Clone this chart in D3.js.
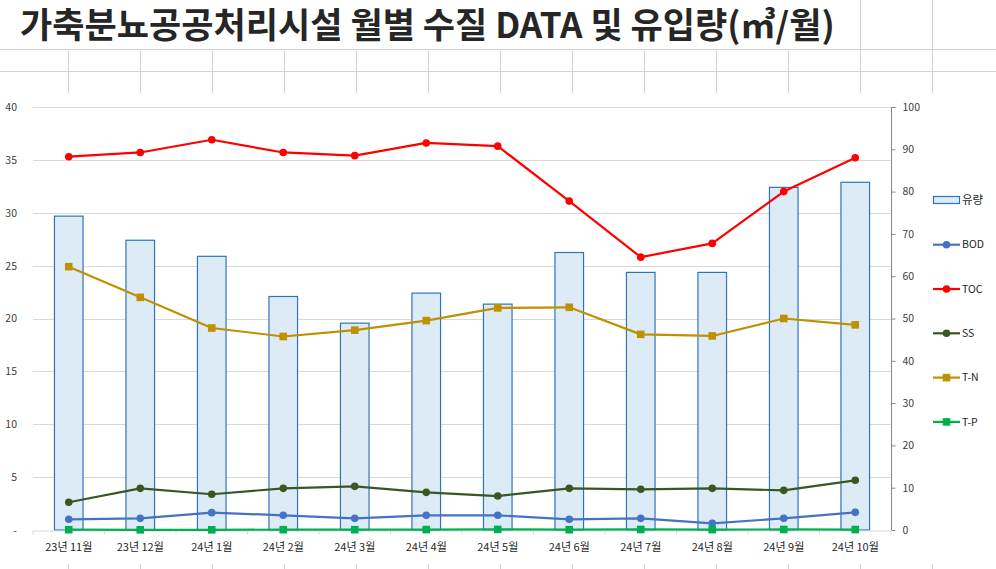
<!DOCTYPE html>
<html>
<head>
  <meta charset="utf-8">
  <script src="https://cdn.jsdelivr.net/npm/d3@7"></script>
  <title>월별 수질 DATA 및 유입량</title>
  <style>
    body { margin: 0; background: #fff; }
    .chart { position: relative; }
    .title {
      position: absolute; left: 20px; top: 0;
      font-family: "Noto Sans CJK KR", sans-serif;
      font-weight: bold; color: #262626;
      line-height: 1.25; white-space: nowrap;
    }
    text { font-family: "Noto Sans CJK KR", "Noto Sans", sans-serif; }
  </style>
</head>
<body>
  <div class="chart"></div>
  <script type="text/javascript">
    // values
    var months = ['23년 11월', '23년 12월', '24년 1월', '24년 2월', '24년 3월', '24년 4월',
                  '24년 5월', '24년 6월', '24년 7월', '24년 8월', '24년 9월', '24년 10월'];
    var flow = [74.2, 68.5, 64.7, 55.2, 48.9, 56.0, 53.4, 65.6, 60.9, 60.9, 81.0, 82.2];
    var bod = [1.01, 1.10, 1.64, 1.39, 1.10, 1.39, 1.39, 1.01, 1.10, 0.63, 1.10, 1.67];
    var toc = [35.3, 35.7, 36.9, 35.7, 35.4, 36.6, 36.3, 31.1, 25.8, 27.1, 32.0, 35.2];
    var ss = [2.62, 3.94, 3.38, 3.94, 4.13, 3.56, 3.21, 3.94, 3.85, 3.94, 3.75, 4.70];
    var tn = [24.9, 22.0, 19.1, 18.3, 18.9, 19.8, 21.0, 21.06, 18.5, 18.35, 20.0, 19.4];
    var tp = [0.03, 0.02, 0.02, 0.03, 0.03, 0.04, 0.06, 0.03, 0.05, 0.04, 0.05, 0.04];
    var leftTicks = [0, 5, 10, 15, 20, 25, 30, 35, 40];
    var rightTicks = [0, 10, 20, 30, 40, 50, 60, 70, 80, 90, 100];

    var lines = [
      {name: 'BOD', values: bod, color: '#4472C4', shape: 'circle'},
      {name: 'TOC', values: toc, color: '#FF0000', shape: 'circle'},
      {name: 'SS', values: ss, color: '#385723', shape: 'circle'},
      {name: 'T-N', values: tn, color: '#BF9000', shape: 'square'},
      {name: 'T-P', values: tp, color: '#00B050', shape: 'square'}
    ];

    var width = 996, height = 569;
    var cellColor = '#d4d4d4';
    var plot = {left: 33, right: 891, top: 107, bottom: 530};

    var svg = d3.select('.chart')
      .append('svg')
      .attr('width', width)
      .attr('height', height);

    // spreadsheet cells behind the chart
    var cols = d3.range(68, width, 72);
    svg.selectAll('.row').data([49, 71]).enter()
      .append('line')
      .attr('x1', 0).attr('x2', width)
      .attr('y1', function(d) { return d + 0.5; })
      .attr('y2', function(d) { return d + 0.5; })
      .attr('stroke', cellColor);
    svg.selectAll('.col').data(cols).enter()
      .append('line')
      .attr('x1', function(d) { return d + 0.5; })
      .attr('x2', function(d) { return d + 0.5; })
      .attr('y1', function(d) { return d >= 860 ? 0 : 49; })
      .attr('y2', 93)
      .attr('stroke', cellColor);
    svg.selectAll('.colb').data(cols).enter()
      .append('line')
      .attr('x1', function(d) { return d + 0.5; })
      .attr('x2', function(d) { return d + 0.5; })
      .attr('y1', 564).attr('y2', height)
      .attr('stroke', cellColor);

    // title sits in the merged cell; fit it to 815px and put its baseline near y=38
    var title = d3.select('.chart').append('div')
      .attr('class', 'title')
      .style('font-size', '100px')
      .text('가축분뇨공공처리시설 월별 수질 DATA 및 유입량(㎥/월)');
    var tw = title.node().getBoundingClientRect().width;
    title.style('font-size', (100 * 815 / tw) + 'px');
    var probe = title.append('span')
      .style('display', 'inline-block').style('width', '0px').style('height', '0px');
    var base = probe.node().getBoundingClientRect().top - title.node().getBoundingClientRect().top;
    probe.remove();
    title.style('top', Math.max(0, 38 - base) + 'px');

    var x = d3.scaleBand()
      .domain(months)
      .range([plot.left, plot.right]);
    var yL = d3.scaleLinear().domain([0, 40]).range([plot.bottom, plot.top]);
    var yR = d3.scaleLinear().domain([0, 100]).range([plot.bottom, plot.top]);

    // gridlines
    svg.selectAll('.grid').data(leftTicks.slice(1)).enter()
      .append('line')
      .attr('x1', plot.left).attr('x2', plot.right)
      .attr('y1', function(d) { return Math.round(yL(d)) + 0.5; })
      .attr('y2', function(d) { return Math.round(yL(d)) + 0.5; })
      .attr('stroke', '#d9d9d9');

    // left axis, no line, zero shown as '-'
    var axL = svg.append('g')
      .attr('transform', 'translate(' + (plot.left - 13) + ',0)')
      .call(d3.axisLeft(yL).tickValues(leftTicks).tickSize(0)
        .tickFormat(function(d) { return d === 0 ? '-' : d; }));
    axL.select('.domain').remove();
    axL.selectAll('text').attr('font-size', 10.5).attr('fill', '#404040')
      .attr('font-family', '"Noto Sans CJK KR", sans-serif');

    // right axis
    var axR = svg.append('g')
      .attr('transform', 'translate(' + (plot.right + 0.5) + ',0)')
      .call(d3.axisRight(yR).tickValues(rightTicks).tickSize(4).tickPadding(7));
    axR.select('.domain').attr('stroke', '#868686').attr('d', 'M0,' + plot.top + 'V' + plot.bottom);
    axR.selectAll('line').attr('stroke', '#868686');
    axR.selectAll('text').attr('font-size', 10.5).attr('fill', '#404040')
      .attr('font-family', '"Noto Sans CJK KR", sans-serif');

    // bars (유량) on the right axis
    var barW = x.bandwidth() * 0.4;
    svg.selectAll('.bar').data(flow).enter()
      .append('rect')
      .attr('x', function(d, i) { return x(months[i]) + (x.bandwidth() - barW) / 2; })
      .attr('y', function(d) { return yR(d); })
      .attr('width', barW)
      .attr('height', function(d) { return yR(0) - yR(d); })
      .attr('fill', '#DDEBF7')
      .attr('stroke', '#2E75B6')
      .attr('stroke-width', 1.2);

    // category axis
    var axX = svg.append('g')
      .attr('transform', 'translate(0,' + (plot.bottom + 0.5) + ')')
      .call(d3.axisBottom(x).tickSize(0).tickPadding(13));
    axX.select('.domain').attr('stroke', '#d9d9d9');
    axX.selectAll('text').attr('font-size', 11).attr('fill', '#262626')
      .attr('font-family', '"Noto Sans CJK KR", sans-serif');
    axX.selectAll('.bnd').data(d3.range(months.length + 1)).enter()
      .append('line')
      .attr('x1', function(d) { return plot.left + d * x.step(); })
      .attr('x2', function(d) { return plot.left + d * x.step(); })
      .attr('y1', 0).attr('y2', 4)
      .attr('stroke', '#d9d9d9');

    // lines on the left axis
    var line = d3.line()
      .x(function(d, i) { return x(months[i]) + x.bandwidth() / 2; })
      .y(function(d) { return yL(d); });

    function marker(g, s, cx, cy) {
      if (s.shape === 'circle') {
        g.append('circle').attr('cx', cx).attr('cy', cy).attr('r', 3.8).attr('fill', s.color);
      } else {
        g.append('rect').attr('x', cx - 3.8).attr('y', cy - 3.8)
          .attr('width', 7.6).attr('height', 7.6).attr('fill', s.color);
      }
    }

    lines.forEach(function(s) {
      var g = svg.append('g');
      g.append('path')
        .attr('d', line(s.values))
        .attr('fill', 'none')
        .attr('stroke', s.color)
        .attr('stroke-width', 2.2)
        .attr('stroke-linejoin', 'round');
      s.values.forEach(function(v, i) {
        marker(g, s, x(months[i]) + x.bandwidth() / 2, yL(v));
      });
    });

    // legend
    var lg = svg.append('g');
    lg.append('rect')
      .attr('x', 933.5).attr('y', 196.5).attr('width', 26).attr('height', 7)
      .attr('fill', '#DDEBF7').attr('stroke', '#2E75B6').attr('stroke-width', 1.2);
    lg.append('text').attr('x', 962).attr('y', 200).attr('dy', '0.35em')
      .attr('font-size', 11.5).attr('fill', '#262626').text('유량');
    lines.forEach(function(s, i) {
      var ly = 244.7 + i * 44.3;
      lg.append('line').attr('x1', 933).attr('x2', 960).attr('y1', ly).attr('y2', ly)
        .attr('stroke', s.color).attr('stroke-width', 2.2);
      marker(lg, s, 946.5, ly);
      lg.append('text').attr('x', 962).attr('y', ly).attr('dy', '0.35em')
        .attr('font-size', 10.5).attr('fill', '#262626').text(s.name);
    });
  </script>
</body>
</html>
